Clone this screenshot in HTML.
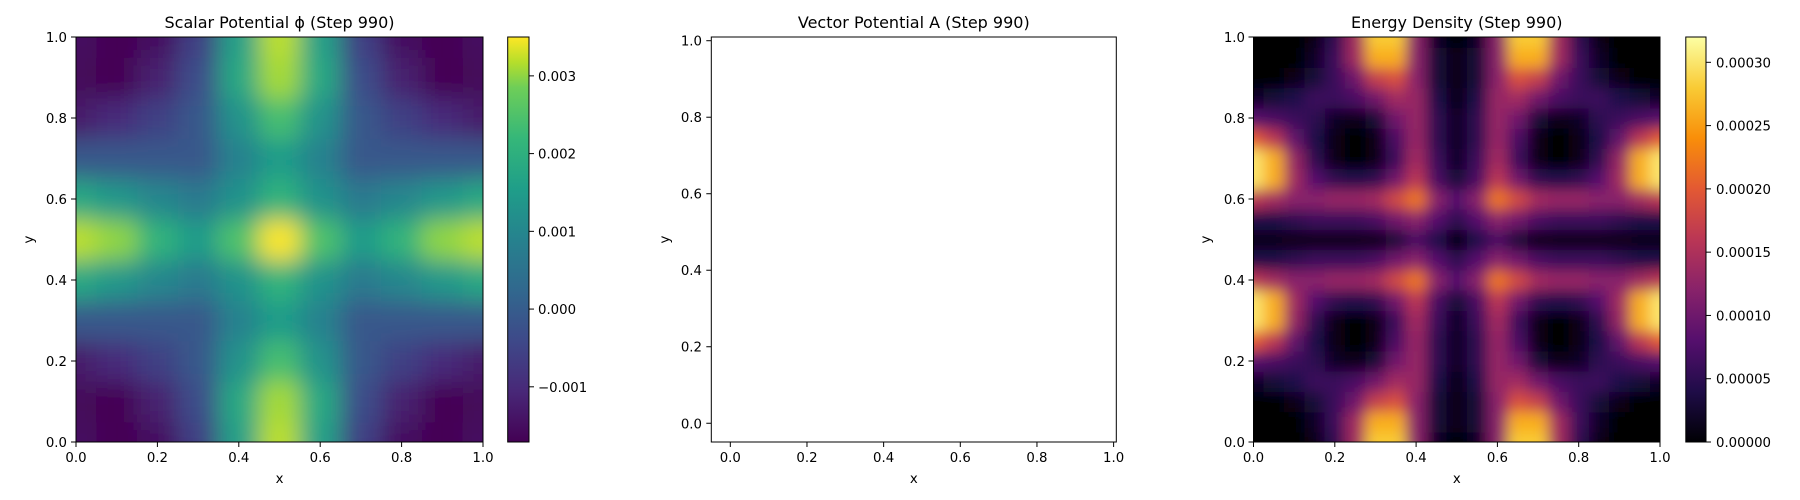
<!DOCTYPE html>
<html><head><meta charset="utf-8">
<style>
html,body{margin:0;padding:0;background:#fff;}
svg{display:block;font-family:"DejaVu Sans","Liberation Sans",sans-serif;}
</style></head>
<body>
<svg id="fig" width="1800" height="500" viewBox="0 0 1800 500" xmlns="http://www.w3.org/2000/svg">
<defs>
<filter id="smooth" filterUnits="userSpaceOnUse" x="-100" y="-100" width="2000" height="700"><feGaussianBlur stdDeviation="7"/></filter>
<filter id="smooth2" filterUnits="userSpaceOnUse" x="-100" y="-100" width="2000" height="700"><feGaussianBlur stdDeviation="12"/></filter>
<clipPath id="clip1"><rect x="76" y="37" width="407" height="405"/></clipPath>
<clipPath id="clip3"><rect x="1253.5" y="37" width="406.5" height="405"/></clipPath>
</defs>
</svg>
<script>
// Scalar potential phi (units 1e-3), grid step 0.1, rows y=0..0.5, cols x=0..0.5
const phiQuadrant = [
  [-1.5,-1.7,-1.5,-0.6, 1.6, 3.2],
  [-1.6,-1.7,-1.2,-0.3, 1.8, 3.1],
  [-1.3,-1.0,-0.6,-0.1, 1.3, 2.4],
  [-0.1,-0.1,-0.1,-0.1, 0.9, 1.5],
  [ 1.8, 1.4, 1.0, 0.7, 1.3, 2.1],
  [ 3.2, 3.0, 2.1, 1.5, 2.5, 3.5]
];
// Energy density (units 1e-5), grid step 0.05, rows y=0..0.5, cols x=0..0.5
const energyQuadrant = [
  [ 0, 0, 0, 1, 5,14,28,28,12, 2, 0],
  [ 0, 0, 0, 2, 6,14,26,26,12, 3, 1],
  [ 0, 0, 1, 3, 6,10,17,19,12, 3, 1],
  [ 2, 3, 4, 6, 6, 7,10,14,13, 4, 1],
  [ 8, 7, 6, 5, 2, 1, 3,10,13, 5, 2],
  [20,16, 9, 4, 1, 0, 1, 7,13, 5, 2],
  [30,26,13, 5, 1, 0, 1, 6,14, 6, 2],
  [30,26,14, 8, 5, 4, 5,10,16, 7, 3],
  [16,14,12,12,13,13,14,18,22,12, 8],
  [ 4, 4, 5, 6, 6, 6, 7,10,12, 8, 5],
  [ 1, 1, 1, 1, 1, 1, 1, 3, 7, 4, 0]
];
const phiRange = [-0.00171, 0.0035];
const energyRange = [0, 0.00032];
const axisTicks = [0, 0.2, 0.4, 0.6, 0.8, 1.0];
const axisTickLabels = ["0.0","0.2","0.4","0.6","0.8","1.0"];
const phiCbarTicks = [-0.001, 0, 0.001, 0.002, 0.003];
const phiCbarLabels = ["\u22120.001","0.000","0.001","0.002","0.003"];
const energyCbarTicks = [0, 0.00005, 0.0001, 0.00015, 0.0002, 0.00025, 0.0003];
const energyCbarLabels = ["0.00000","0.00005","0.00010","0.00015","0.00020","0.00025","0.00030"];

const viridis = ["#440154","#482878","#3e4989","#31688e","#26828e","#1f9e89","#35b779","#6ece58","#b5de2b","#fde725"];
const viridisPos = [0,.125,.25,.375,.5,.625,.75,.875,.9375,1];
const inferno = ["#000004","#1f0c48","#550f6d","#88226a","#ba3655","#e35933","#f98e09","#f9cb35","#fcffa4"];
const infernoPos = [0,.125,.25,.375,.5,.625,.75,.875,1];

const NS = "http://www.w3.org/2000/svg";
const svg = document.getElementById('fig');
function el(tag, attrs, parent){ const e=document.createElementNS(NS,tag); for(const k in attrs) e.setAttribute(k,attrs[k]); (parent||svg).appendChild(e); return e; }
function hex(h){return [parseInt(h.substr(1,2),16),parseInt(h.substr(3,2),16),parseInt(h.substr(5,2),16)];}
function cmap(cols,pos,t){
  t=Math.max(0,Math.min(1,t));
  for(let i=1;i<pos.length;i++){ if(t<=pos[i]){ const f=(t-pos[i-1])/(pos[i]-pos[i-1]); const a=hex(cols[i-1]),b=hex(cols[i]);
    return `rgb(${Math.round(a[0]+(b[0]-a[0])*f)},${Math.round(a[1]+(b[1]-a[1])*f)},${Math.round(a[2]+(b[2]-a[2])*f)})`; } }
  return cols[cols.length-1];
}
function mirror(q){
  const n=q.length, N=2*n-1, out=[];
  for(let j=0;j<N;j++){ const jj=j<n?j:N-1-j; const row=[]; for(let i=0;i<N;i++){ const ii=i<n?i:N-1-i; row.push(q[jj][ii]); } out.push(row); }
  return out;
}
function makeAxis(ax){
  ax.sx = v => ax.x0 + (v-ax.dxmin)/(ax.dxmax-ax.dxmin)*(ax.x1-ax.x0);
  ax.sy = v => ax.y1 - (v-ax.dymin)/(ax.dymax-ax.dymin)*(ax.y1-ax.y0);
  return ax;
}
function drawFrame(ax, pid, title, ylabX, ytickEnd){
  const g=el('g',{});
  
  
  const t=el('text',{x:(ax.x0+ax.x1)/2,y:28,'text-anchor':'middle','font-size':'16',fill:'#000'},g);
  t.textContent=title;
  
  
  const fr=el('rect',{x:ax.x0,y:ax.y0,width:ax.x1-ax.x0,height:ax.y1-ax.y0,fill:'none',stroke:'#000','stroke-width':'1'},g);
  
  
  axisTicks.forEach((v,i)=>{
    const x=ax.sx(v);
    el('line',{x1:x,x2:x,y1:ax.y1,y2:ax.y1+5,stroke:'#000','stroke-width':'1'},g);
    const lx=el('text',{x:x,y:462,'text-anchor':'middle','font-size':'13.3',fill:'#000'},g);
    lx.textContent=axisTickLabels[i];
    
    
    const y=ax.sy(v);
    el('line',{x1:ax.x0-5,x2:ax.x0,y1:y,y2:y,stroke:'#000','stroke-width':'1'},g);
    const ly=el('text',{x:ytickEnd,y:y+5,'text-anchor':'end','font-size':'13.3',fill:'#000'},g);
    ly.textContent=axisTickLabels[i];
    
    
  });
  const xl=el('text',{x:(ax.x0+ax.x1)/2,y:483,'text-anchor':'middle','font-size':'13.3',fill:'#000'},g);
  xl.textContent='x';
  
  
  const yl=el('text',{x:ylabX,y:(ax.y0+ax.y1)/2,'text-anchor':'middle','font-size':'13.3',fill:'#000',transform:`rotate(-90 ${ylabX} ${(ax.y0+ax.y1)/2})`},g);
  yl.textContent='y';
  
  
}
function drawHeat(ax, pid, grid, scale, range, cols, pos, clipId, filterId){
  const n=grid.length, step=1/(n-1), pad=50;
  const outer=el('g',{'clip-path':`url(#${clipId})`});
  
  
  const g=el('g',{filter:`url(#${filterId})`},outer);
  for(let j=0;j<n;j++) for(let i=0;i<n;i++){
    const v=grid[j][i]*scale, t=(v-range[0])/(range[1]-range[0]);
    let xa=ax.sx(i*step-step/2), xb=ax.sx(i*step+step/2);
    let ya=ax.sy(j*step+step/2), yb=ax.sy(j*step-step/2);
    if(i===0) xa=ax.x0-pad;
    if(i===n-1) xb=ax.x1+pad;
    if(j===0) yb=ax.y1+pad;
    if(j===n-1) ya=ax.y0-pad;
    const r=el('rect',{x:xa,y:ya,width:xb-xa+0.6,height:yb-ya+0.6,fill:cmap(cols,pos,t)},g);
    
    
  }
}
function drawCbar(pid,x0,x1,y0,y1,range,cols,pos,ticks,labels,lx){
  const defs=svg.querySelector('defs');
  const lg=el('linearGradient',{id:pid+'-grad',x1:'0',y1:'1',x2:'0',y2:'0'},defs);
  cols.forEach((c,i)=>el('stop',{offset:pos[i],'stop-color':c},lg));
  const g=el('g',{});
  
  
  el('rect',{x:x0,y:y0,width:x1-x0,height:y1-y0,fill:`url(#${pid}-grad)`,stroke:'#000','stroke-width':'1'},g);
  const sy=v=>y1-(v-range[0])/(range[1]-range[0])*(y1-y0);
  ticks.forEach((v,i)=>{
    const y=sy(v);
    el('line',{x1:x1,x2:x1+5,y1:y,y2:y,stroke:'#000','stroke-width':'1'},g);
    const t=el('text',{x:lx,y:y+5,'font-size':'13.3',fill:'#000'},g);
    t.textContent=labels[i];
    
    
  });
}

const ax1=makeAxis({x0:76,x1:483,y0:37,y1:442,dxmin:0,dxmax:1,dymin:0,dymax:1});
drawHeat(ax1,'scalar-potential',mirror(phiQuadrant),1e-3,phiRange,viridis,viridisPos,'clip1','smooth2');
drawFrame(ax1,'scalar-potential','Scalar Potential \u03d5 (Step 990)',33,67);
drawCbar('scalar-potential',507.7,529,37,442,phiRange,viridis,viridisPos,phiCbarTicks,phiCbarLabels,538);

const ax2=makeAxis({x0:711.3,x1:1116.3,y0:37,y1:442,dxmin:-0.0496,dxmax:1.007,dymin:-0.049,dymax:1.0097});
drawFrame(ax2,'vector-potential','Vector Potential A (Step 990)',669,702);

const ax3=makeAxis({x0:1253.5,x1:1660,y0:37,y1:442,dxmin:0,dxmax:1,dymin:0,dymax:1});
drawHeat(ax3,'energy-density',mirror(energyQuadrant),1e-5,energyRange,inferno,infernoPos,'clip3','smooth');
drawFrame(ax3,'energy-density','Energy Density (Step 990)',1210,1245);
drawCbar('energy-density',1685.8,1706,37,442,energyRange,inferno,infernoPos,energyCbarTicks,energyCbarLabels,1716);
</script>
</body></html>
